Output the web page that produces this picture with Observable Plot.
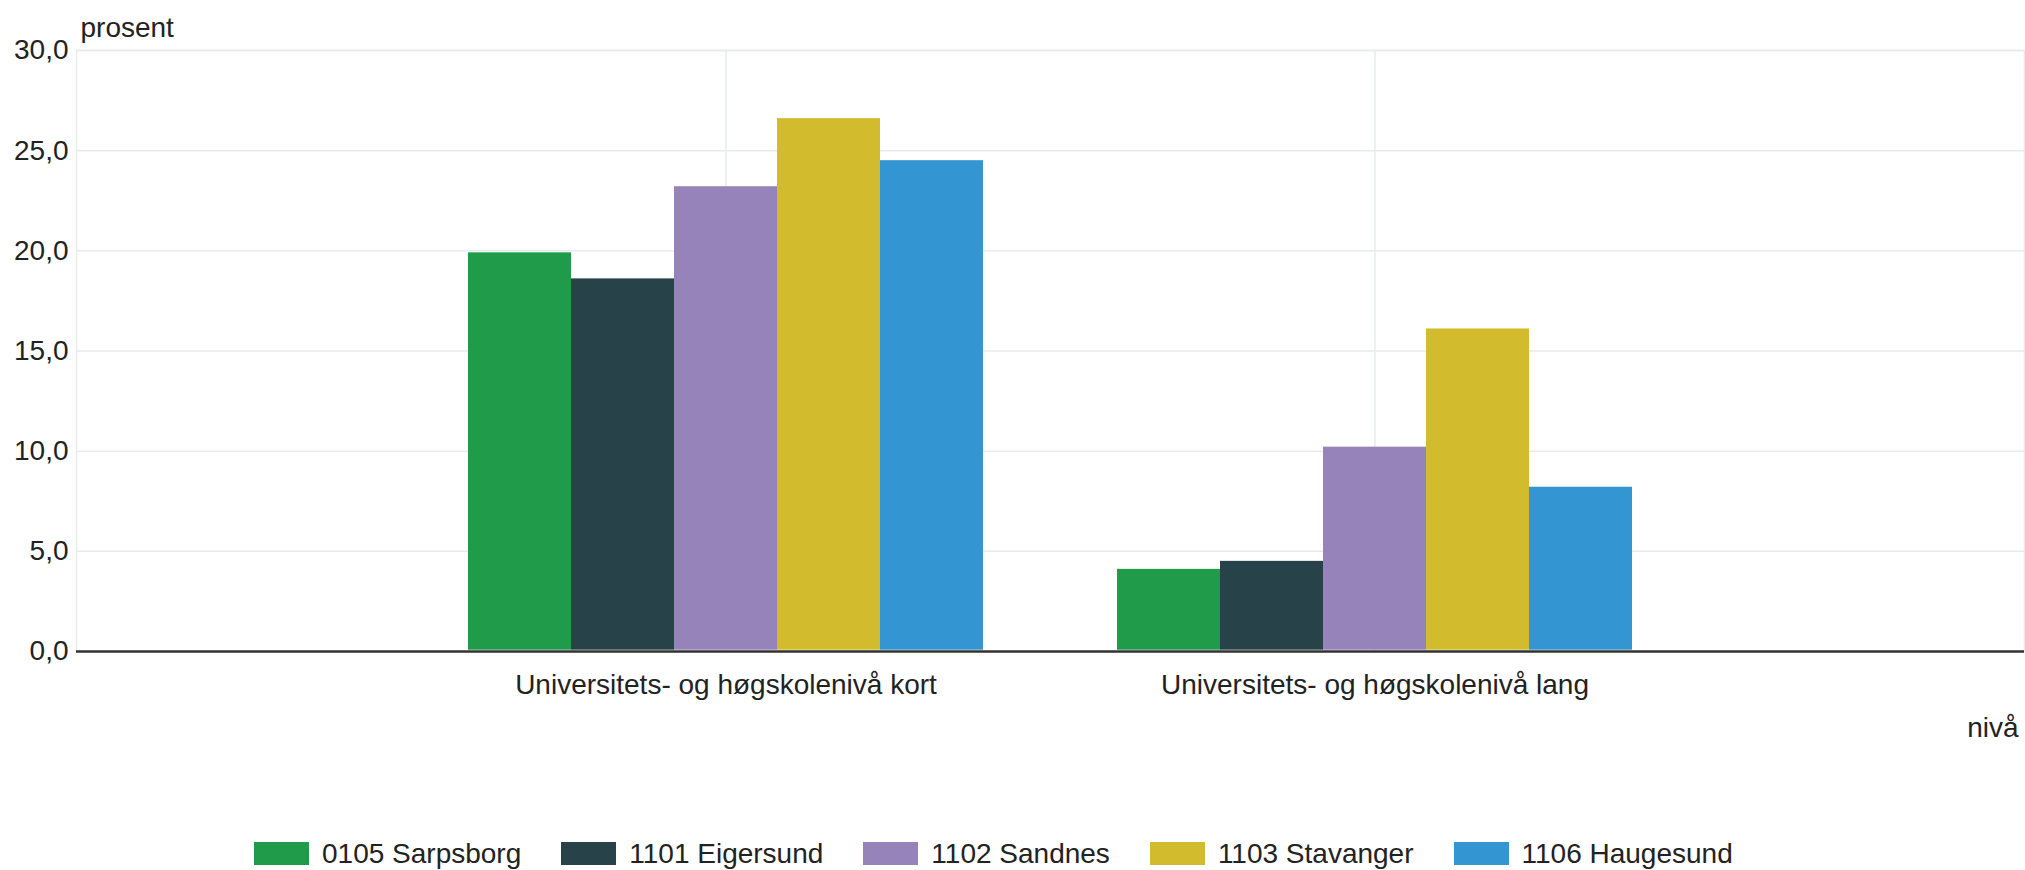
<!DOCTYPE html>
<html><head><meta charset="utf-8">
<script src="https://cdn.jsdelivr.net/npm/d3@7"></script>
<script src="https://cdn.jsdelivr.net/npm/@observablehq/plot@0.6"></script>
<style>
body{margin:0;background:#fff;font-family:"Liberation Sans",Arial,sans-serif;}
#chart{position:relative;width:2025px;height:870px;overflow:hidden;}
#chart svg{position:absolute;left:0;top:0;}
#legend{position:absolute;left:254px;top:842px;display:flex;align-items:center;font-size:28px;color:#222;line-height:23px;}
.item{display:flex;align-items:center;margin-right:40px;white-space:nowrap;}
.sw{width:55px;height:23px;margin-right:13px;}
</style></head><body><div id="chart"></div>
<script>
const categories = ["Universitets- og høgskolenivå kort", "Universitets- og høgskolenivå lang"];
const series = ["0105 Sarpsborg", "1101 Eigersund", "1102 Sandnes", "1103 Stavanger", "1106 Haugesund"];
const colors = ["#1f9b4a", "#284249", "#9683ba", "#d2bc2d", "#3396d2"];
const kortValues = [19.9, 18.6, 23.2, 26.6, 24.5];
const langValues = [4.1, 4.5, 10.2, 16.1, 8.2];
const yTicks = [0, 5, 10, 15, 20, 25, 30];
const yLabel = "prosent";
const xLabel = "nivå";

const valuesByCategory = [kortValues, langValues];
const data = [];
categories.forEach((c, i) => series.forEach((s, j) => data.push({category: c, series: s, value: valuesByCategory[i][j]})));

const fmt = v => d3.format(".1f")(v).replace(".", ",");
const grid = "#e6ebec";
const textColor = "#222";
const font = '"Liberation Sans", Arial, sans-serif';
const fs = 28;

const dims = {width: 2025, height: 760, marginTop: 50, marginLeft: 76, marginRight: 1, marginBottom: 109};
const bandOpts = {type: "band", paddingInner: 0.2, paddingOuter: 0.6};

const base = Plot.plot({
  ...dims,
  style: {fontFamily: font, fontSize: fs + "px", color: textColor, background: "transparent", overflow: "visible"},
  x: {domain: categories, ...bandOpts, axis: null},
  y: {domain: [0, 30], axis: null},
  marks: [
    Plot.gridY(yTicks, {stroke: grid, strokeOpacity: 1, strokeWidth: 1.5}),
    Plot.gridX({stroke: grid, strokeOpacity: 1, strokeWidth: 1.5}),
    Plot.frame({stroke: grid, strokeWidth: 1.5}),
    Plot.ruleY([0], {stroke: "#333", strokeWidth: 2.5}),
    Plot.axisX({tickSize: 0, tickPadding: 23, label: null, fontSize: fs, fill: textColor}),
    Plot.axisY({ticks: yTicks, tickFormat: fmt, tickSize: 0, tickPadding: 8, label: null, fontSize: fs, fill: textColor}),
    Plot.text([yLabel], {frameAnchor: "top-left", dx: 4, dy: -14, lineAnchor: "bottom", textAnchor: "start", fontSize: fs, fill: textColor}),
    Plot.text([xLabel], {frameAnchor: "bottom-right", dx: -6, dy: 85, lineAnchor: "bottom", textAnchor: "end", fontSize: fs, fill: textColor})
  ]
});

const bars = Plot.plot({
  ...dims,
  style: {fontFamily: font, fontSize: fs + "px", background: "transparent", overflow: "visible"},
  fx: {domain: categories, paddingInner: 0.2, paddingOuter: 0.6, axis: null, label: null},
  x: {domain: series, padding: 0, axis: null},
  y: {domain: [0, 30], axis: null},
  color: {domain: series, range: colors},
  marks: [
    Plot.barY(data, {fx: "category", x: "series", y: "value", fill: "series", insetBottom: 1.3})
  ]
});

const container = document.getElementById("chart");
container.appendChild(base);
container.appendChild(bars);

const legend = document.createElement("div");
legend.id = "legend";
series.forEach((s, i) => {
  const item = document.createElement("div");
  item.className = "item";
  const sw = document.createElement("div");
  sw.className = "sw";
  sw.style.background = colors[i];
  const t = document.createElement("span");
  t.textContent = s;
  item.appendChild(sw);
  item.appendChild(t);
  legend.appendChild(item);
});
container.appendChild(legend);
</script></body></html>
